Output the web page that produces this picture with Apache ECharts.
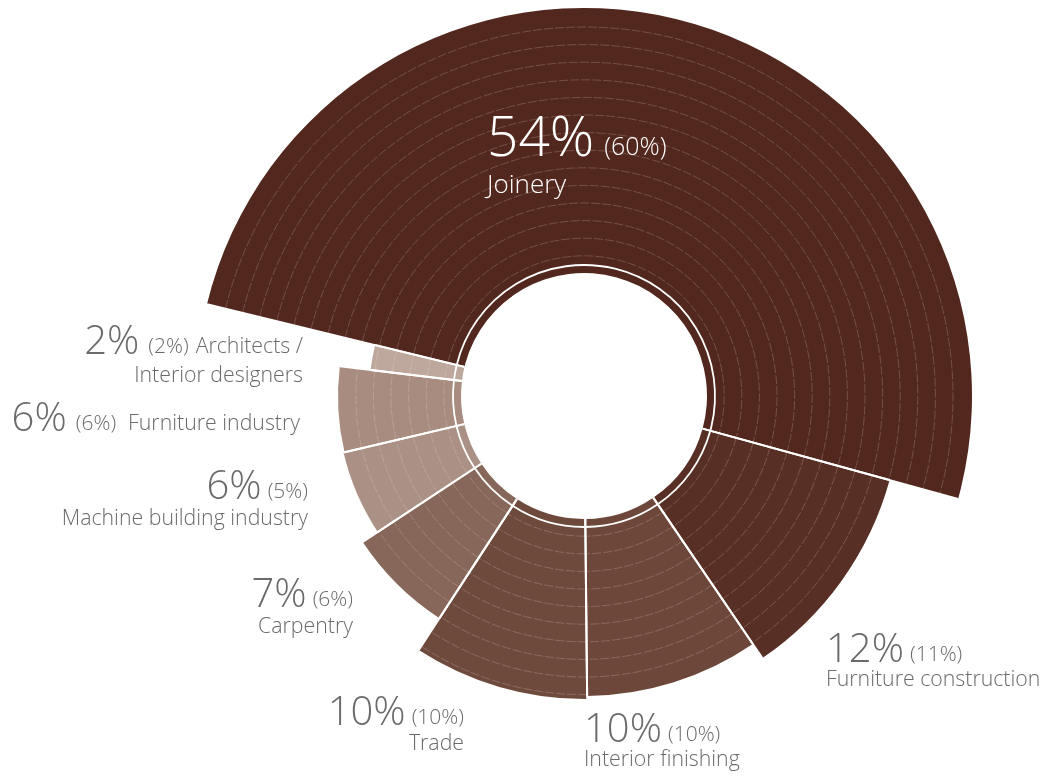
<!DOCTYPE html>
<html><head><meta charset="utf-8">
<script src="https://cdn.jsdelivr.net/npm/echarts@6/dist/echarts.min.js"></script>
<style>html,body{margin:0;padding:0;background:#fff}#chart{width:1042px;height:778px}</style>
</head><body><div id="chart"></div>
<script>
// ---- data ----
const categories = ['Joinery', 'Furniture construction', 'Interior finishing', 'Trade', 'Carpentry',
  'Machine building industry', 'Furniture industry', 'Architects /\nInterior designers'];
const shareCurrent = [54, 12, 10, 10, 7, 6, 6, 2];      // big percentage (drives slice angle)
const sharePrevious = [60, 11, 10, 10, 6, 5, 6, 2];     // percentage in brackets
const outerRadius = [388, 317, 300, 303, 265, 247, 246, 215]; // slice reach, radius-axis units

// ---- styling / layout ----
const sliceColors = ['#52271e', '#582f25', '#6d473a', '#6e4a3d', '#87675a', '#aa9085', '#a88c80', '#bea89e'];
const HOLE = 123, RING = 131, GRID_START = 140.2, GRID_STEP = 17.6;
const FONT = '"Open Sans", "Noto Sans", sans-serif';
const BASE_K = 0.27;
const labelLayout = [
  { x: 487, y: 155, align: 'left', mode: 'stack', gap: 38, big: 55, small: 25, name: 26, color: '#ffffff', gapA: 10 },
  { x: 826, y: 661, align: 'left', mode: 'stack', gap: 25 },
  { x: 584, y: 741, align: 'left', mode: 'stack', gap: 25 },
  { x: 464, y: 724, align: 'right', mode: 'stack', gap: 26 },
  { x: 353, y: 606, align: 'right', mode: 'stack', gap: 27 },
  { x: 308, y: 498, align: 'right', mode: 'stack', gap: 27 },
  { x: 300, y: 430, align: 'right', mode: 'inline', gapA: 9, gapB: 12 },
  { x: 303, y: 353, align: 'right', mode: 'wrap', gap: 28.5, gapA: 9 }
];

const total = shareCurrent.reduce((a, b) => a + b, 0);
let acc = 0;
const sliceData = shareCurrent.map((v, i) => { const s = acc; acc += v; return [outerRadius[i], s, acc]; });

const mctx = document.createElement('canvas').getContext('2d');
function tw(text, font) { mctx.font = font; return mctx.measureText(text).width; }

function buildLabel(i) {
  const L = Object.assign({ big: 40, small: 21, name: 21.3, color: '#6a6a6a', gapA: 6, gapB: 7, weight: 300 }, labelLayout[i]);
  const big = shareCurrent[i] + '%';
  const small = '(' + sharePrevious[i] + '%)';
  const parts = categories[i].split('\n');
  let lines;
  if (L.mode === 'stack') lines = [[[big, 'big'], [small, 'small']], [[parts.join(' '), 'name']]];
  else if (L.mode === 'inline') lines = [[[big, 'big'], [small, 'small'], [parts.join(' '), 'name']]];
  else lines = [[[big, 'big'], [small, 'small'], [parts[0], 'name']], [[parts.slice(1).join(' '), 'name']]];
  const els = [];
  lines.forEach((line, li) => {
    const baseline = L.y + li * (L.gap || 0);
    const segs = line.map(([t, k], si) => {
      const size = L[k];
      const font = `${L.weight} ${size}px ${FONT}`;
      return { t, size, font, w: tw(t, font), pre: si === 0 ? 0 : (k === 'small' ? L.gapA : L.gapB) };
    });
    const totalW = segs.reduce((a, s) => a + s.w + s.pre, 0);
    let x = L.align === 'left' ? L.x : L.x - totalW;
    segs.forEach(s => {
      x += s.pre;
      els.push({
        type: 'text', z2: 10, x: x, y: baseline - BASE_K * s.size,
        style: { text: s.t, font: s.font, fill: L.color, align: 'left', verticalAlign: 'middle' }
      });
      x += s.w;
    });
  });
  return els;
}

function renderItem(params, api) {
  const cs = params.coordSys;
  const cx = cs.cx, cy = cs.cy;
  const rOut = api.value(0), s = api.value(1), e = api.value(2);
  const i = params.dataIndex;
  const pOut0 = api.coord([rOut, s]), pOut1 = api.coord([rOut, e]);
  const pIn0 = api.coord([HOLE, s]), pIn1 = api.coord([HOLE, e]);
  let a0 = Math.atan2(pOut0[1] - cy, pOut0[0] - cx);
  let a1 = Math.atan2(pOut1[1] - cy, pOut1[0] - cx);
  while (a1 <= a0) a1 += Math.PI * 2;
  const rad = v => { const p = api.coord([v, s]); return Math.hypot(p[0] - cx, p[1] - cy); };
  const children = [{
    type: 'sector', z2: 0,
    shape: { cx, cy, r0: rad(HOLE), r: rad(rOut), startAngle: a0, endAngle: a1, clockwise: true },
    style: { fill: sliceColors[i] }
  }];
  for (let g = GRID_START; g < rOut - 4; g += GRID_STEP) {
    children.push({
      type: 'arc', z2: 1,
      shape: { cx, cy, r: rad(g), startAngle: a0, endAngle: a1, clockwise: true },
      style: { fill: null, stroke: 'rgba(255,230,220,0.30)', lineWidth: 0.7, lineDash: [9, 2] }
    });
  }
  children.push({
    type: 'arc', z2: 2,
    shape: { cx, cy, r: rad(RING), startAngle: a0, endAngle: a1, clockwise: true },
    style: { fill: null, stroke: '#ffffff', lineWidth: 1.8 }
  });
  [[pIn0, pOut0], [pIn1, pOut1]].forEach(([p, q]) => {
    children.push({
      type: 'line', z2: 3,
      shape: { x1: p[0], y1: p[1], x2: q[0], y2: q[1] },
      style: { stroke: '#ffffff', lineWidth: 2 }
    });
  });
  buildLabel(i).forEach(t => children.push(t));
  return { type: 'group', children };
}

const chart = echarts.init(document.getElementById('chart'), null, { renderer: 'canvas' });
chart.setOption({
  backgroundColor: '#ffffff',
  animation: false,
  polar: { center: [584, 396], radius: [0, 400] },
  angleAxis: { type: 'value', min: 0, max: total, startAngle: 166.3, clockwise: true, show: false },
  radiusAxis: { type: 'value', min: 0, max: 400, show: false },
  series: [{
    type: 'custom', coordinateSystem: 'polar',
    encode: { radius: 0, angle: 1 },
    data: sliceData, renderItem, silent: true
  }]
});
</script></body></html>
